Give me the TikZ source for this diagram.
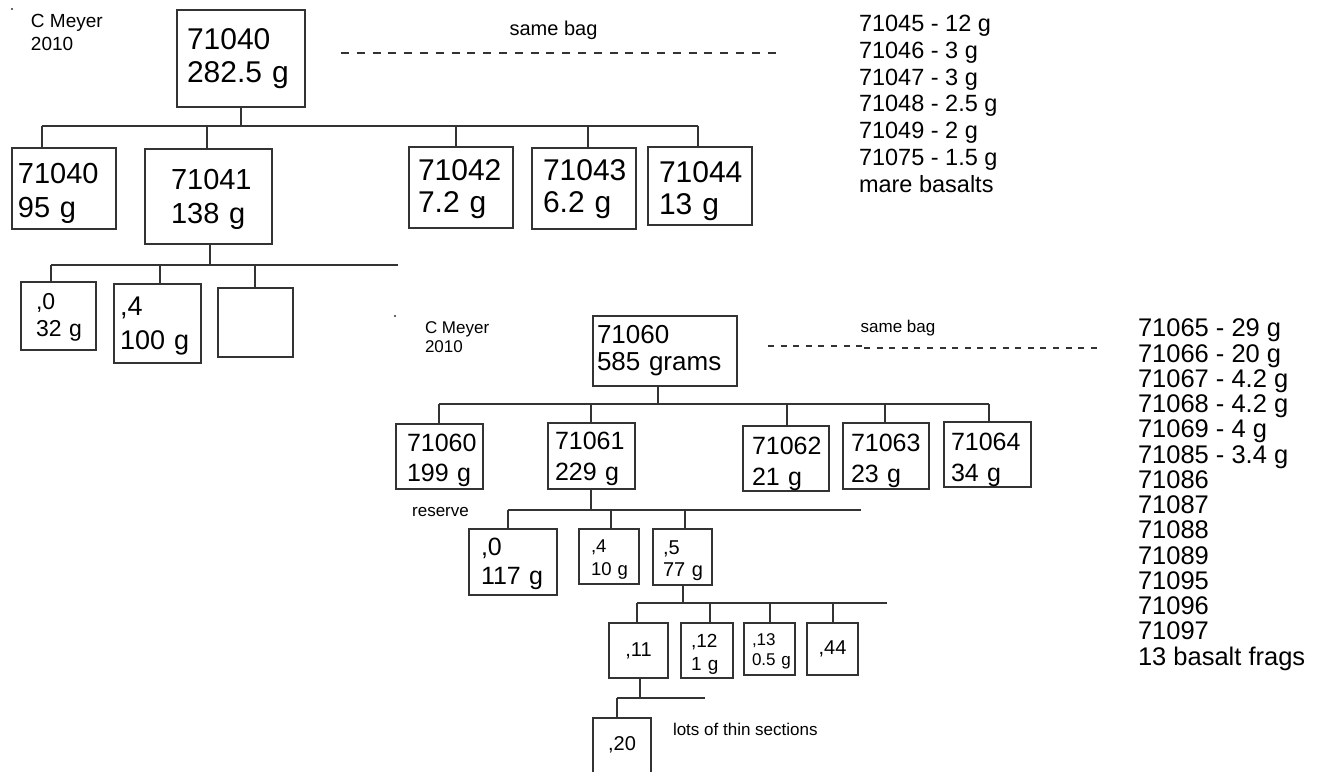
\documentclass[tikz,border=0pt]{standalone}
\usepackage{fontspec}
\setmainfont{Liberation Sans}
\usetikzlibrary{calc}
\newcommand\fsz[2]{\fontsize{#1pt}{#2pt}\selectfont}
\newcommand\sh[1]{\rule{0pt}{#1pt}}
\tikzset{
  bx/.style={draw=black!80, line width=0.7pt, anchor=north west, inner ysep=0pt, outer sep=0pt},
  bxl/.style={bx, align=left},
  wire/.style={draw=black!80, line width=0.7pt},
  bagline/.style={draw=black!80, line width=0.7pt, dash pattern=on 4pt off 3.9pt},
  bagline2/.style={draw=black!80, line width=0.7pt, dash pattern=on 3pt off 3.3pt},
  txt/.style={inner sep=0pt, outer sep=0pt, align=left},
}
\begin{document}
\begin{tikzpicture}[x=0.5pt, y=-0.5pt]
\useasboundingbox (0,0) rectangle (1322,771);
\clip (0,0) rectangle (1322,771);

% ---------------- top tree ----------------
\fill[black!80] (12,9) circle (0.6pt);
\node[txt, anchor=north west, font=\fsz{9.5}{11.5}] (cm1) at (31,14) {C Meyer\\2010};
\node[txt, font=\fsz{10}{12}] (sb1) at (553.5,30) {same bag};
\coordinate (dl1a) at (341,53);
\coordinate (dl1b) at (780,53);
\draw[bagline] (dl1a) -- (dl1b);
\node[txt, anchor=north west, font=\fsz{11.75}{13.4}] (list1) at (859,15)
  {71045 - 12~g\\71046 - 3~g\\71047 - 3~g\\71048 - 2.5~g\\71049 - 2~g\\71075 - 1.5~g\\mare basalts};

\node[bxl, minimum width=64pt, minimum height=48.5pt, inner xsep=5pt, text width=54pt, font=\fsz{15}{16.5}] (T0) at (177,10) {71040\\282.5~g};
\node[bxl, minimum width=52pt, minimum height=40.5pt, inner xsep=3pt, text width=46pt, font=\fsz{14.5}{17}] (T1) at (12,148) {\sh{15.4}71040\\95~g};
\node[bxl, minimum width=63.5pt, minimum height=47.5pt, inner xsep=13pt, text width=37.5pt, font=\fsz{14.5}{17}] (T2) at (145,149) {\sh{13.4}71041\\138~g};
\node[bxl, minimum width=52pt, minimum height=40.5pt, inner xsep=4.5pt, text width=43pt, font=\fsz{15}{16}] (T3) at (409,147) {\sh{12.2}71042\\7.2~g};
\node[bxl, minimum width=52pt, minimum height=40.5pt, inner xsep=5.5pt, text width=41pt, font=\fsz{15}{16}] (T4) at (532,148) {\sh{11.2}71043\\6.2~g};
\node[bxl, minimum width=52pt, minimum height=39pt, inner xsep=5.5pt, text width=41pt, font=\fsz{15}{16}] (T5) at (648,147) {\sh{15.7}71044\\13~g};
\node[bxl, minimum width=37.5pt, minimum height=34pt, inner xsep=7.5pt, text width=22.5pt, font=\fsz{11.5}{13.5}] (T6) at (21,282) {\sh{9.2},0\\32~g};
\node[bxl, minimum width=43.5pt, minimum height=39.5pt, inner xsep=3pt, text width=37.5pt, font=\fsz{13.5}{17}] (T7) at (114,284) {\sh{11.7},4\\100~g};
\node[bx, minimum width=37.5pt, minimum height=34.5pt] (T8) at (218,288) {};
\fill[black!80] (395,316) circle (0.6pt);

% buses top
\coordinate (b1a) at (42,126);  \coordinate (b1b) at (698,126);
\draw[wire] (b1a) -- (b1b);
\draw[wire] (T0.south) -- (T0.south |- b1a);
\coordinate (d11) at (42,126);  \draw[wire] (d11) -- (T1.north -| d11);
\coordinate (d12) at (207,126); \draw[wire] (d12) -- (T2.north -| d12);
\coordinate (d13) at (456,126); \draw[wire] (d13) -- (T3.north -| d13);
\coordinate (d14) at (588,126); \draw[wire] (d14) -- (T4.north -| d14);
\coordinate (d15) at (698,126); \draw[wire] (d15) -- (T5.north -| d15);

\coordinate (b2a) at (51,265);  \coordinate (b2b) at (398,265);
\draw[wire] (b2a) -- (b2b);
\coordinate (p2) at (210,265);  \draw[wire] (p2) -- (T2.south -| p2);
\coordinate (d21) at (51,265);  \draw[wire] (d21) -- (T6.north -| d21);
\coordinate (d22) at (160,265); \draw[wire] (d22) -- (T7.north -| d22);
\coordinate (d23) at (255,265); \draw[wire] (d23) -- (T8.north -| d23);

% ---------------- bottom tree ----------------
\node[txt, anchor=north west, font=\fsz{8.5}{9.5}] (cm2) at (425,322) {C Meyer\\2010};
\node[txt, font=\fsz{8.5}{10}] (sb2) at (898,328) {same bag};
\coordinate (dl2a) at (768,346); \coordinate (dl2m) at (862,346);
\coordinate (dl2n) at (864,348); \coordinate (dl2b) at (1098,348);
\draw[bagline2] (dl2a) -- (dl2m);
\draw[bagline2] (dl2n) -- (dl2b);
\node[txt, anchor=north west, font=\fsz{12.75}{12.63}] (list2) at (1138,319)
  {71065 - 29~g\\71066 - 20~g\\71067 - 4.2~g\\71068 - 4.2~g\\71069 - 4~g\\71085 - 3.4~g\\71086\\71087\\71088\\71089\\71095\\71096\\71097\\13 basalt frags};

\node[bxl, minimum width=72pt, minimum height=35pt, inner xsep=2pt, text width=68pt, font=\fsz{13}{13.5}] (B0) at (593,316) {71060\\585~grams};
\node[bxl, minimum width=43.5pt, minimum height=32.5pt, inner xsep=5.5pt, text width=32.5pt, font=\fsz{12.5}{15}] (B1) at (396,424) {\sh{12.95}71060\\199~g};
\node[bxl, minimum width=43.5pt, minimum height=33pt, inner xsep=3.5pt, text width=36.5pt, font=\fsz{12.5}{15.5}] (B2) at (548,423) {\sh{11.95}71061\\229~g};
\node[bxl, minimum width=43pt, minimum height=32.5pt, inner xsep=4.5pt, text width=34pt, font=\fsz{12.5}{15.5}] (B3) at (743,426) {\sh{13.95}71062\\21~g};
\node[bxl, minimum width=43pt, minimum height=33pt, inner xsep=4pt, text width=35pt, font=\fsz{12.5}{15.5}] (B4) at (843,423) {\sh{13.95}71063\\23~g};
\node[bxl, minimum width=43.5pt, minimum height=32.5pt, inner xsep=3.5pt, text width=36.5pt, font=\fsz{12.5}{15.5}] (B5) at (944,422) {\sh{14.45}71064\\34~g};
\node[txt, font=\fsz{8.5}{10}] (res) at (440.5,512) {reserve};

\node[bxl, minimum width=44pt, minimum height=33pt, inner xsep=6pt, text width=32pt, font=\fsz{12.5}{14.5}] (C0) at (469,529) {\sh{10.95},0\\117~g};
\node[bxl, minimum width=30pt, minimum height=27.5pt, inner xsep=6pt, text width=18pt, font=\fsz{9.25}{11.5}] (C1) at (579,529) {\sh{9.1},4\\10~g};
\node[bxl, minimum width=29.5pt, minimum height=28pt, inner xsep=5pt, text width=19.5pt, font=\fsz{10}{11}] (C2) at (653,529) {\sh{10.2},5\\77~g};

\node[bx, minimum width=29.5pt, minimum height=27.5pt, font=\fsz{10}{12}] (D0) at (609,623) {,11};
\node[bxl, minimum width=26pt, minimum height=27.5pt, inner xsep=5pt, text width=16pt, font=\fsz{9.5}{11.5}] (D1) at (681,623) {\sh{10.8},12\\1~g};
\node[bxl, minimum width=25.5pt, minimum height=26pt, inner xsep=4pt, text width=17.5pt, font=\fsz{8.5}{10}] (D2) at (744,623) {\sh{8.1},13\\0.5~g};
\node[bx, minimum width=25.5pt, minimum height=26pt, font=\fsz{10}{12}] (D3) at (807,623) {,44};

\node[bx, minimum width=29pt, minimum height=30pt, text height=7pt, text depth=5pt, font=\fsz{10}{12}] (E0) at (593,718) {,20};
\node[txt, anchor=north west, font=\fsz{8.5}{10}] (lots) at (673,723) {lots of thin sections};

% buses bottom
\coordinate (b3a) at (439,404); \coordinate (b3b) at (989,404);
\draw[wire] (b3a) -- (b3b);
\coordinate (p3) at (658,404);  \draw[wire] (p3) -- (B0.south -| p3);
\coordinate (d31) at (439,404); \draw[wire] (d31) -- (B1.north -| d31);
\coordinate (d32) at (591,404); \draw[wire] (d32) -- (B2.north -| d32);
\coordinate (d33) at (787,404); \draw[wire] (d33) -- (B3.north -| d33);
\coordinate (d34) at (885,404); \draw[wire] (d34) -- (B4.north -| d34);
\coordinate (d35) at (989,404); \draw[wire] (d35) -- (B5.north -| d35);

\coordinate (b4a) at (508,510); \coordinate (b4b) at (861,510);
\draw[wire] (b4a) -- (b4b);
\coordinate (p4) at (591,510);  \draw[wire] (p4) -- (B2.south -| p4);
\coordinate (d41) at (508,510); \draw[wire] (d41) -- (C0.north -| d41);
\coordinate (d42) at (611,510); \draw[wire] (d42) -- (C1.north -| d42);
\coordinate (d43) at (685,510); \draw[wire] (d43) -- (C2.north -| d43);

\coordinate (b5a) at (637,603); \coordinate (b5b) at (887,603);
\draw[wire] (b5a) -- (b5b);
\coordinate (p5) at (683,603);  \draw[wire] (p5) -- (C2.south -| p5);
\coordinate (d51) at (637,603); \draw[wire] (d51) -- (D0.north -| d51);
\coordinate (d52) at (710,603); \draw[wire] (d52) -- (D1.north -| d52);
\coordinate (d53) at (770,603); \draw[wire] (d53) -- (D2.north -| d53);
\coordinate (d54) at (833,603); \draw[wire] (d54) -- (D3.north -| d54);

\coordinate (b6a) at (617,698); \coordinate (b6b) at (705,698);
\draw[wire] (b6a) -- (b6b);
\coordinate (p6) at (640,698);  \draw[wire] (p6) -- (D0.south -| p6);
\coordinate (d61) at (617,698); \draw[wire] (d61) -- (E0.north -| d61);
\end{tikzpicture}
\end{document}
